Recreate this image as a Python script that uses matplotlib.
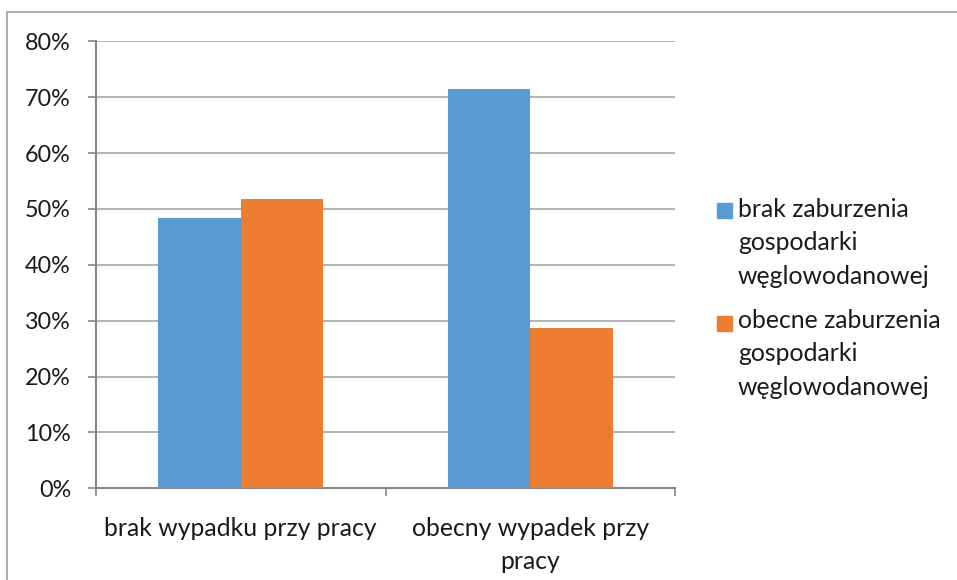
import matplotlib.pyplot as plt
from matplotlib.patches import Rectangle
import numpy as np

# Dane
kategorie = ['brak wypadku przy pracy', 'obecny wypadek przy\npracy']
serie = ['brak zaburzenia\ngospodarki\nwęglowodanowej',
         'obecne zaburzenia\ngospodarki\nwęglowodanowej']
brak_zaburzen = [0.483, 0.714]
obecne_zaburzenia = [0.517, 0.286]

kolor_niebieski = '#5B9BD5'
kolor_pomaranczowy = '#ED7D31'
kolor_osi = '#868686'
kolor_siatki = '#A6A6A6'

plt.rcParams['font.family'] = ['Lato', 'DejaVu Sans']

fig = plt.figure(figsize=(9.57, 5.8), dpi=100)
fig.patch.set_facecolor('white')

# ramka wykresu (prawa i dolna krawędź poza obrazem)
fig.patches.append(Rectangle((7.5 / 957, -0.1), 1.2, 1 - 11.5 / 580 + 0.1,
                             transform=fig.transFigure, fill=False,
                             edgecolor='#A0A0A0', linewidth=1.2))

ax = fig.add_axes([96 / 957, (580 - 488.3) / 580, 579 / 957, 447 / 580])

x = np.arange(len(kategorie))
szer = 0.285
ax.bar(x - szer / 2, brak_zaburzen, szer, color=kolor_niebieski, zorder=3)
ax.bar(x + szer / 2, obecne_zaburzenia, szer, color=kolor_pomaranczowy, zorder=3)

ax.set_xlim(-0.5, 1.5)
ax.set_ylim(0, 0.8)
ax.set_yticks(np.arange(0, 0.81, 0.1))
ax.set_yticklabels([f'{int(round(v * 100))}%' for v in np.arange(0, 0.81, 0.1)])
ax.yaxis.grid(True, color=kolor_siatki, linewidth=1.2, zorder=0)
ax.set_axisbelow(True)

# podpisy kategorii bez kresek, kreski na granicach kategorii
ax.set_xticks(x)
ax.set_xticklabels(kategorie, linespacing=1.5)
ax.tick_params(axis='x', which='major', length=0, pad=21, labelsize=17.8,
               labelcolor='#1a1a1a')
ax.set_xticks([-0.5, 0.5, 1.5], minor=True)
ax.tick_params(axis='x', which='minor', length=6, width=1.2, color=kolor_osi)
ax.tick_params(axis='y', length=6, width=1.2, color=kolor_osi, pad=12,
               labelsize=16.8, labelcolor='#1a1a1a')

for s in ['top', 'right']:
    ax.spines[s].set_visible(False)
for s in ['left', 'bottom']:
    ax.spines[s].set_color(kolor_osi)
    ax.spines[s].set_linewidth(1.5)

# legenda
for kolor, etykieta, y_gora, y_kw in zip([kolor_niebieski, kolor_pomaranczowy], serie,
                                         [198, 309], [218, 331]):
    fig.patches.append(Rectangle((717 / 957, 1 - y_kw / 580), 15 / 957, 15 / 580,
                                 transform=fig.transFigure, color=kolor))
    fig.text(738 / 957, 1 - y_gora / 580, etykieta, fontsize=17.8, color='#1a1a1a',
             va='top', ha='left', linespacing=1.55)

fig.savefig('out.png', dpi=100, facecolor='white')
